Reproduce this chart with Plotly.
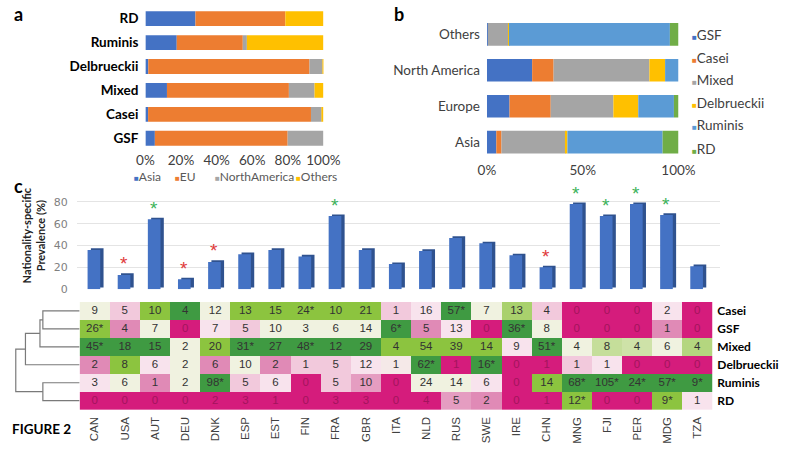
import numpy as np
import plotly.graph_objects as go

# ---------------- data ----------------
# Panel a: group composition by region (%)
a_groups = ["GSF", "Casei", "Mixed", "Delbrueckii", "Ruminis", "RD"]
a_regions = ["Asia", "EU", "NorthAmerica", "Others"]
a_asia = [5.3, 1.5, 12.1, 1.6, 17.6, 28.1]
a_eu = [74.6, 91.5, 68.5, 90.6, 37.1, 50.5]
a_na = [20.1, 6.0, 14.4, 7.3, 2.3, 0.0]
a_others = [0.0, 1.0, 5.0, 0.5, 43.0, 21.4]
a_ticks = [0, 20, 40, 60, 80, 100]

# Panel b: region composition by group (%)
b_regions = ["Asia", "Europe", "North America", "Others"]
b_groups = ["GSF", "Casei", "Mixed", "Delbrueckii", "Ruminis", "RD"]
b_gsf = [4.9, 11.8, 23.6, 0.5]
b_casei = [2.7, 21.5, 11.2, 0.0]
b_mixed = [33.5, 32.7, 50.0, 10.5]
b_delb = [0.9, 13.0, 8.2, 0.5]
b_rum = [49.7, 18.6, 7.0, 84.0]
b_rd = [8.3, 2.4, 0.0, 4.5]
b_ticks = [0, 50, 100]

# Panel c: nationality-specific prevalence (%)
countries = ["CAN", "USA", "AUT", "DEU", "DNK", "ESP", "EST", "FIN", "FRA", "GBR", "ITA",
             "NLD", "RUS", "SWE", "IRE", "CHN", "MNG", "FJI", "PER", "MDG", "TZA"]
prevalence = [36, 13, 64, 9, 25, 32, 36, 30, 67, 36, 23, 35, 47, 42, 31, 20, 78, 67, 78, 68, 21]
prevalence_flag = ["", "low", "high", "low", "low", "", "", "", "high", "", "",
                   "", "", "", "", "low", "high", "high", "high", "high", ""]
c_ticks = [0, 20, 40, 60, 80]

# Heatmap rows and cell labels
heat_rows = ["Casei", "GSF", "Mixed", "Delbrueckii", "Ruminis", "RD"]
cell_labels = [
    ["9", "5", "10", "4", "12", "13", "15", "24*", "10", "21", "1", "16", "57*", "7", "13", "4", "0", "0", "0", "2", "0"],
    ["26*", "4", "7", "0", "7", "5", "10", "3", "6", "14", "6*", "5", "13", "0", "36*", "8", "0", "0", "0", "1", "0"],
    ["45*", "18", "15", "2", "20", "31*", "27", "48*", "12", "29", "4", "54", "39", "14", "9", "51*", "4", "8", "4", "6", "4"],
    ["2", "8", "6", "2", "6", "10", "2", "1", "5", "12", "1", "62*", "1", "16*", "0", "1", "1", "1", "0", "0", "0"],
    ["3", "6", "1", "2", "98*", "5", "6", "0", "5", "10", "0", "24", "14", "6", "0", "14", "68*", "105*", "24*", "57*", "9*"],
    ["0", "0", "0", "0", "2", "3", "1", "0", "3", "3", "0", "4", "5", "2", "0", "1", "12*", "0", "0", "9*", "1"],
]
# standardized enrichment score of each cell
cell_score = [
    [0, -1, 2, 3, 0, 2, 2, 2, 2, 2, -1, -0.5, 3, 0, 1.5, -1, -3, -3, -3, -0.5, -3],
    [2, -2, 0, -3, -0.5, -1, 0, 0, 0, 0, 3, -2, -0.5, -3, 3, 0, -3, -3, -3, -2, -3],
    [3, 3, 3, 0, 2, 3, 3, 3, 3, 3, 2, 2, 2, 2, -0.5, 3, 0, 1, 0.8, 0, 1.3],
    [-2, 2, -0.5, 0, -2, 0, -2, -1, -1, -0.5, -0.3, 3, -3, 3, -3, -3, -1, -0.5, -3, -3, -3],
    [-0.5, 0, -2, 0, 3, -1, -0.5, -3, -1, -1.7, -3, 0, 0, -0.5, -3, 2, 3, 3, 3, 3, 3],
    [-3, -3, -3, -3, -3, -3, -3, -3, -3, -3, -3, -3, -1.7, -2, -3, -3, 2, -3, -3, 2, -0.5],
]
# dendrogram linkage (left, right, height); new clusters numbered from 6
linkage = [(0, 1, 38), (6, 2, 41), (7, 3, 56), (4, 5, 38), (8, 9, 66)]

# ---------------- helpers ----------------
W, H = 800, 450
def px(x):
    return x / W
def py(y):
    return 1 - y / H

FONT = "Lato"
fig = go.Figure()

# ---------------- panel a ----------------
a_colors = ["#4472c4", "#ed7d31", "#a5a5a5", "#ffc000"]
base = np.zeros(len(a_groups))
for name, vals, col in zip(a_regions, [a_asia, a_eu, a_na, a_others], a_colors):
    fig.add_trace(go.Bar(y=a_groups, x=vals, base=base.copy(), orientation="h", name=name,
                         marker=dict(color=col, line=dict(width=0)), width=0.62,
                         xaxis="x", yaxis="y", showlegend=False))
    base += np.array(vals)

# ---------------- panel b ----------------
b_colors = ["#4472c4", "#ed7d31", "#a5a5a5", "#ffc000", "#5b9bd5", "#70ad47"]
base = np.zeros(len(b_regions))
for name, vals, col in zip(b_groups, [b_gsf, b_casei, b_mixed, b_delb, b_rum, b_rd], b_colors):
    fig.add_trace(go.Bar(y=b_regions, x=vals, base=base.copy(), orientation="h", name=name,
                         marker=dict(color=col, line=dict(width=0)), width=0.63,
                         xaxis="x2", yaxis="y2", showlegend=False))
    base += np.array(vals)

# ---------------- panel c bars (pseudo-3D) ----------------
flag_colors = {"low": "#e0383a", "high": "#3cb35a"}
fig.add_trace(go.Bar(x=countries, y=prevalence, base=1.5, width=0.42, offset=-0.13,
                     marker=dict(color="#2f528f", line=dict(width=0)),
                     xaxis="x3", yaxis="y3", showlegend=False, hoverinfo="skip"))
fig.add_trace(go.Bar(x=countries, y=prevalence, width=0.42, offset=-0.24,
                     marker=dict(color="#4472c4", line=dict(width=0)),
                     xaxis="x3", yaxis="y3", showlegend=False, name="Prevalence"))

# ---------------- heatmap ----------------
colorscale = [
    [0.0, "#d51c7c"],
    [1 / 6, "#e08ab6"],
    [2 / 6, "#f2c9dc"],
    [2.5 / 6, "#f8e3ed"],
    [3 / 6, "#f0f2e0"],
    [4 / 6, "#c5de9a"],
    [5 / 6, "#8cc43f"],
    [1.0, "#3f9a42"],
]
fig.add_trace(go.Heatmap(z=cell_score, x=list(range(len(countries))), y=list(range(len(heat_rows))),
                         colorscale=colorscale, zmin=-3, zmax=3, showscale=False,
                         xaxis="x4", yaxis="y4", hoverinfo="skip"))
tx, ty, tt, tc = [], [], [], []
for r in range(len(heat_rows)):
    for c in range(len(countries)):
        tx.append(c)
        ty.append(r)
        tt.append(cell_labels[r][c])
        tc.append("#a3145d" if cell_score[r][c] <= -2.5 else "#333333")
fig.add_trace(go.Scatter(x=tx, y=ty, text=tt, mode="text",
                         textfont=dict(family="Liberation Sans", size=11.5, color=tc),
                         xaxis="x4", yaxis="y4", showlegend=False, hoverinfo="skip"))

# ---------------- dendrogram ----------------
pos = {i: float(i) for i in range(len(heat_rows))}
hgt = {i: 0.0 for i in range(len(heat_rows))}
dx, dy = [], []
nid = len(heat_rows)
for a, b, h in linkage:
    dx += [hgt[a], h, h, hgt[b], None]
    dy += [pos[a], pos[a], pos[b], pos[b], None]
    pos[nid] = (pos[a] + pos[b]) / 2
    hgt[nid] = h
    nid += 1
fig.add_trace(go.Scatter(x=dx, y=dy, mode="lines", line=dict(color="#7a7a7a", width=1.2),
                         xaxis="x5", yaxis="y4", showlegend=False, hoverinfo="skip"))

# ---------------- layout ----------------
tick_gray = "#404040"
fig.update_layout(
    width=W, height=H, margin=dict(l=0, r=0, t=0, b=0),
    paper_bgcolor="white", plot_bgcolor="white", barmode="overlay",
    font=dict(family=FONT),
    xaxis=dict(domain=[px(141), px(325)], range=[0, 100], tickvals=a_ticks,
               ticktext=[f"{v}%" for v in a_ticks], showgrid=False, zeroline=False,
               showline=False, ticks="",
               tickfont=dict(family=FONT, size=13.5, color=tick_gray), anchor="y"),
    yaxis=dict(domain=[py(151.2), py(4.8)], type="category", categoryorder="array",
               categoryarray=a_groups, range=[-0.5, 5.5], showgrid=False, zeroline=False,
               ticks="", ticklabelstandoff=6,
               tickfont=dict(family=FONT, size=13.5, color="black", weight="bold"), anchor="x"),
    xaxis2=dict(domain=[px(494), px(692)], range=[0, 100], tickvals=b_ticks,
                ticktext=[f"{v}%" for v in b_ticks],
                showgrid=False, zeroline=False, showline=False, ticks="",
                tickfont=dict(family=FONT, size=13.5, color=tick_gray), anchor="y2"),
    yaxis2=dict(domain=[py(161.3), py(14.7)], type="category", categoryorder="array",
                categoryarray=b_regions, range=[-0.5, 3.5], showgrid=False, zeroline=False,
                ticks="", ticklabelstandoff=6,
                tickfont=dict(family=FONT, size=13.5, color=tick_gray), anchor="x2"),
    xaxis3=dict(domain=[px(70), px(735)], range=[-0.6, 20.75], showticklabels=False,
                showgrid=False, zeroline=False, showline=False, ticks="", anchor="y3"),
    yaxis3=dict(domain=[py(293), py(200)], range=[0, 83.6], tickvals=c_ticks,
                showgrid=True, gridcolor="#e4e4e4", gridwidth=1, zeroline=False, ticks="",
                ticklabelstandoff=8,
                tickfont=dict(family="DejaVu Sans", size=11, color="#7f7f7f"), anchor="x3"),
    xaxis4=dict(domain=[px(73), px(727)], range=[-0.5, 20.5], tickvals=list(range(len(countries))),
                ticktext=countries, tickangle=-90, ticks="", showgrid=False, zeroline=False,
                ticklabelstandoff=4,
                tickfont=dict(family="Liberation Sans", size=11.5, color=tick_gray), anchor="y4"),
    yaxis4=dict(domain=[py(416), py(306)], range=[5.5, -0.5], tickvals=list(range(len(heat_rows))),
                ticktext=heat_rows, side="right", ticks="", showgrid=False, zeroline=False,
                ticklabelstandoff=4,
                tickfont=dict(family=FONT, size=12, color="black", weight="bold"), anchor="x4"),
    xaxis5=dict(domain=[0, px(73)], range=[73, 0], visible=False, anchor="y4"),
)

ann = []
def label(x, y, text, size, xanchor="left", color="black", angle=0):
    ann.append(dict(x=px(x), y=py(y), xref="paper", yref="paper", text=text, showarrow=False,
                    xanchor=xanchor, yanchor="middle", textangle=angle,
                    font=dict(family=FONT, size=size, color=color)))

label(3, 12, "<b>a</b>", 18)
label(396, 12, "<b>b</b>", 18)
label(3, 188, "<b>c</b>", 18)
label(1, 436, "<b>FIGURE 2</b>", 13.5)
label(25, 238, "<b>Nationality-specific<br>Prevalence (%)</b>", 11, xanchor="center", color="#222222", angle=-90)

# legend of panel a
for name, col, x in zip(a_regions, a_colors, [127, 170, 211, 295]):
    label(x, 178, f'<span style="color:{col};font-size:8px">■</span>{name}', 12, color="#595959")
# legend of panel b
for name, col, y in zip(b_groups, b_colors, [34, 57, 80, 103, 126, 150]):
    label(704, y, f'<span style="color:{col};font-size:8px">■</span>{name}', 13.5, color=tick_gray)

# significance asterisks above bars
for ctry, val, flag in zip(countries, prevalence, prevalence_flag):
    if flag:
        ann.append(dict(x=ctry, y=val, xref="x3", yref="y3", text="*", showarrow=False,
                        xanchor="center", yanchor="middle", yshift=11, xshift=-1,
                        font=dict(family="Liberation Sans", size=19, color=flag_colors[flag])))

fig.update_layout(annotations=ann)
fig.write_html("out.html", config={"displayModeBar": False},
               post_script="document.body.style.margin='0';document.body.style.padding='0';"
                           "document.body.style.overflow='hidden';")
